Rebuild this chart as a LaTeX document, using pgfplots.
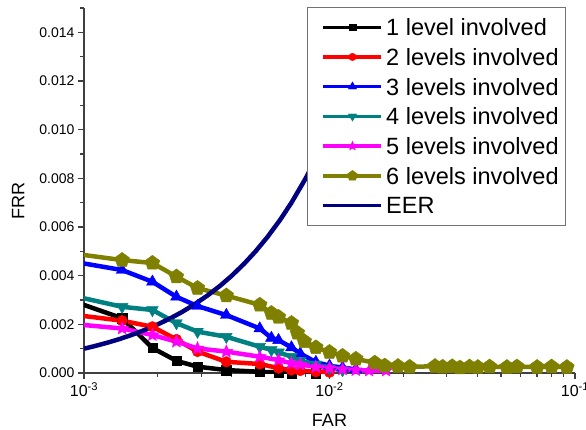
\documentclass[border=0pt]{standalone}
\usepackage{fontspec}
\setmainfont{Liberation Sans}
\usepackage{pgfplots}
\pgfplotsset{compat=1.18}
\usetikzlibrary{plotmarks}
\definecolor{cteal}{RGB}{0,128,128}
\definecolor{colive}{RGB}{128,128,0}
\definecolor{cnavy}{RGB}{0,0,128}
\definecolor{cmag}{RGB}{255,0,255}
\definecolor{cred}{RGB}{255,0,0}
\definecolor{cblue}{RGB}{0,0,255}
\pgfdeclareplotmark{fstar}{%
  \pgfpathmoveto{\pgfpointpolar{90}{\pgfplotmarksize}}%
  \pgfpathlineto{\pgfpointpolar{126}{0.45\pgfplotmarksize}}%
  \pgfpathlineto{\pgfpointpolar{162}{\pgfplotmarksize}}%
  \pgfpathlineto{\pgfpointpolar{198}{0.45\pgfplotmarksize}}%
  \pgfpathlineto{\pgfpointpolar{234}{\pgfplotmarksize}}%
  \pgfpathlineto{\pgfpointpolar{270}{0.45\pgfplotmarksize}}%
  \pgfpathlineto{\pgfpointpolar{306}{\pgfplotmarksize}}%
  \pgfpathlineto{\pgfpointpolar{342}{0.45\pgfplotmarksize}}%
  \pgfpathlineto{\pgfpointpolar{18}{\pgfplotmarksize}}%
  \pgfpathlineto{\pgfpointpolar{54}{0.45\pgfplotmarksize}}%
  \pgfpathclose\pgfusepathqfillstroke}
\begin{document}
\begin{tikzpicture}
\useasboundingbox (-84pt,-56pt) rectangle (502pt,373pt);
\begin{axis}[
  at={(0pt,0pt)}, anchor=south west,
  scale only axis, width=491pt, height=365pt,
  xmode=log, xmin=1e-3, xmax=1e-1, ymin=0, ymax=0.015,
  axis x line*=bottom, axis y line*=left,
  axis line style={black!75, line width=1.2pt},
  tick align=outside,
  major tick length=6pt, minor tick length=4pt,
  tick style={black!75, line width=1.2pt},
  xtick={1e-3,1e-2,1e-1},
  xticklabels={10\textsuperscript{-3},10\textsuperscript{-2},10\textsuperscript{-1}},
  minor xtick={2e-3,3e-3,4e-3,5e-3,6e-3,7e-3,8e-3,9e-3,2e-2,3e-2,4e-2,5e-2,6e-2,7e-2,8e-2,9e-2},
  ytick={0,0.002,0.004,0.006,0.008,0.010,0.012,0.014},
  yticklabels={0.000,0.002,0.004,0.006,0.008,0.010,0.012,0.014},
  minor ytick={0.001,0.003,0.005,0.007,0.009,0.011,0.013,0.015},
  scaled y ticks=false,
  yticklabel style={font=\fontsize{14}{16}\selectfont},
  xticklabel style={font=\fontsize{16}{18}\selectfont},
  xlabel={FAR}, ylabel={FRR},
  label style={font=\fontsize{18}{20}\selectfont},
  xlabel style={at={(axis description cs:0.5,-0.13)}, anchor=center},
  ylabel style={at={(axis description cs:-0.134,0.47)}, anchor=center, rotate=0},
  legend cell align=left,
  legend style={at={(rel axis cs:0.982,1.003)}, anchor=north east,
    draw=black!55, line width=1pt, fill=white,
    font=\fontsize{23.5}{26}\selectfont,
    inner xsep=4pt, inner ysep=5pt, row sep=0pt,
    nodes={inner ysep=6.35pt, inner xsep=3pt, text height=17pt, text depth=0pt}},
  legend image code/.code={%
    \path (0pt,0pt);
    \draw[#1, line width=3.5pt, mark=none] (10pt,0pt) -- (68pt,0pt);
    \draw[#1, /tikz/every mark/.append style={scale=0.7}] plot coordinates {(39pt,0pt)};},
  ser/.style={line width=4.5pt},
]
\addplot[ser, black, mark=square*, mark size=4.7pt, mark options={solid, line width=0.4pt}] coordinates {
(0.0008,0.00314) (0.00143,0.00225) (0.0019,0.00103) (0.00238,0.0005) (0.0029,0.00026) (0.0038,0.00012) (0.0052,0.00005) (0.0062,0.00002) (0.0070,0.0) (0.0088,0.0)};
\addlegendentry{1 level involved}
\addplot[ser, cred, mark=*, mark size=5.3pt, mark options={solid, line width=0.4pt}] coordinates {
(0.0008,0.00246) (0.00143,0.00215) (0.0019,0.0019) (0.00238,0.00138) (0.0029,0.00088) (0.0038,0.00046) (0.0052,0.00037) (0.0062,0.0002) (0.0070,0.00012) (0.0076,0.0001) (0.0088,0.00005) (0.010,0.00003)};
\addlegendentry{2 levels involved}
\addplot[ser, cblue, mark=triangle*, mark size=6.8pt, mark options={solid, line width=0.4pt}] coordinates {
(0.0008,0.00467) (0.00143,0.00423) (0.0019,0.00375) (0.00238,0.00313) (0.0029,0.00275) (0.0038,0.00238) (0.0052,0.00183) (0.0058,0.00144) (0.0062,0.00135) (0.0070,0.00105) (0.0076,0.0008) (0.0088,0.00045) (0.010,0.0003) (0.0113,0.00022) (0.0128,0.00015)};
\addlegendentry{3 levels involved}
\addplot[ser, cteal, mark=triangle*, mark size=6.8pt, mark options={solid, rotate=180, line width=0.4pt}] coordinates {
(0.0008,0.00329) (0.00143,0.00272) (0.0019,0.00259) (0.00238,0.00205) (0.0029,0.0017) (0.0038,0.00149) (0.0052,0.00108) (0.0058,0.00095) (0.0062,0.00085) (0.0070,0.00067) (0.0076,0.0005) (0.0088,0.00035) (0.010,0.0002) (0.0113,0.00012)};
\addlegendentry{4 levels involved}
\addplot[ser, cmag, mark=fstar, mark size=6.8pt, mark options={solid, line width=0.4pt}] coordinates {
(0.0008,0.00206) (0.00143,0.00183) (0.0019,0.00156) (0.00238,0.00129) (0.0029,0.00101) (0.0038,0.00088) (0.0052,0.00067) (0.0062,0.00053) (0.0070,0.0004) (0.0076,0.00035) (0.0088,0.00025) (0.010,0.0002) (0.0113,0.00015) (0.0128,0.00012) (0.0145,0.0001) (0.017,0.0001)};
\addlegendentry{5 levels involved}
\addplot[ser, colive, mark=pentagon*, mark size=7.7pt, mark options={solid, line width=0.4pt}] coordinates {
(0.0008,0.00498) (0.00143,0.00464) (0.0019,0.00452) (0.00238,0.00396) (0.0029,0.00349) (0.0038,0.00318) (0.0052,0.0028) (0.0058,0.00246) (0.0062,0.0023) (0.0070,0.00205) (0.0074,0.00165) (0.0079,0.0013) (0.0088,0.00105) (0.010,0.00086) (0.0113,0.0007) (0.0128,0.00058) (0.0153,0.00042) (0.0168,0.0003) (0.0190,0.00028) (0.0212,0.00025) (0.0269,0.00028) (0.0289,0.00025) (0.0316,0.00027) (0.0340,0.00022) (0.0372,0.00026) (0.0402,0.00024) (0.0449,0.00026) (0.0528,0.00024) (0.0580,0.00026) (0.0701,0.00024) (0.0803,0.00026) (0.0927,0.00024)};
\addlegendentry{6 levels involved}
\addplot[ser, cnavy, no marks] coordinates {
(0.001,0.001) (0.0011,0.0011) (0.00125,0.00125) (0.0014,0.0014) (0.0016,0.0016) (0.0018,0.0018) (0.002,0.002) (0.00225,0.00225) (0.0025,0.0025) (0.0028,0.0028) (0.0032,0.0032) (0.0036,0.0036) (0.004,0.004) (0.0045,0.0045) (0.005,0.005) (0.0056,0.0056) (0.0063,0.0063) (0.007,0.007) (0.008,0.008) (0.009,0.009) (0.010,0.010) (0.011,0.011) (0.0125,0.0125) (0.014,0.014) (0.016,0.016)};
\addlegendentry{EER}
\end{axis}
\end{tikzpicture}
\end{document}
